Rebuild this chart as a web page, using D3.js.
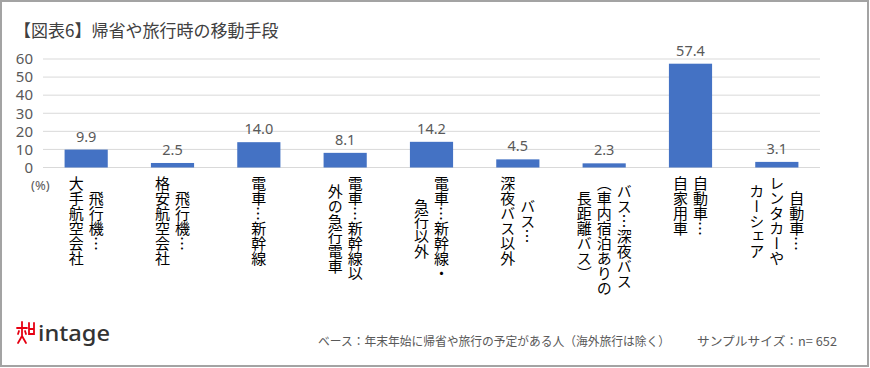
<!DOCTYPE html>
<html><head><meta charset="utf-8">
<script src="https://cdn.jsdelivr.net/npm/d3@7"></script>
<style>
html,body{margin:0;padding:0;background:#fff;}
svg{display:block;}
</style></head>
<body>
<svg id="chart" width="870" height="368"></svg>
<script>
const title = "【図表6】帰省や旅行時の移動手段";
const categories = [
  ["飛行機…","大手航空会社"],
  ["飛行機…","格安航空会社"],
  ["電車…新幹線"],
  ["電車…新幹線以","外の急行電車"],
  ["電車…新幹線・","急行以外"],
  ["バス…","深夜バス以外"],
  ["バス…深夜バス","（車内宿泊ありの","長距離バス）"],
  ["自動車…","自家用車"],
  ["自動車…","レンタカーや","カーシェア"]
];
const values = [9.9, 2.5, 14.0, 8.1, 14.2, 4.5, 2.3, 57.4, 3.1];
const yTicks = [0, 10, 20, 30, 40, 50, 60];
const unitLabel = "(%)";
const baseNote = "ベース：年末年始に帰省や旅行の予定がある人（海外旅行は除く）";
const sampleNote = "サンプルサイズ：n= 652";

const svg = d3.select("#chart");
const JP = "'Noto Sans CJK JP','Noto Sans',sans-serif";
const NUM = "'Noto Sans','Open Sans',sans-serif";
const gray = "#595959";

svg.append("rect").attr("x",1).attr("y",1).attr("width",867).attr("height",365)
  .attr("fill","#fff").attr("stroke","#a3a3a3").attr("stroke-width",2);

svg.append("text").attr("x",14).attr("y",37).text(title)
  .attr("font-family",JP).attr("font-size",17).attr("fill","#404040");

const x = d3.scaleBand().domain(d3.range(values.length)).range([43,820])
  .paddingInner(0.5).paddingOuter(0.25);
const y = d3.scaleLinear().domain([0,60]).range([167.5,59]);

svg.append("g").selectAll("line").data(yTicks).join("line")
  .attr("x1",43).attr("x2",820)
  .attr("y1",d=>y(d)).attr("y2",d=>y(d))
  .attr("stroke","#d9d9d9").attr("stroke-width",1);

const yAxis = d3.axisLeft(y).tickValues(yTicks).tickSize(0).tickPadding(0);
const ga = svg.append("g").attr("transform","translate(33,0)").call(yAxis);
ga.select(".domain").remove();
ga.selectAll("text").attr("font-family",NUM).attr("font-size",15).attr("fill",gray);

svg.append("text").attr("x",31).attr("y",190).text(unitLabel)
  .attr("font-family",NUM).attr("font-size",13).attr("fill",gray);

svg.append("g").selectAll("rect").data(values).join("rect")
  .attr("x",(d,i)=>x(i)).attr("width",x.bandwidth())
  .attr("y",d=>y(d)).attr("height",d=>y(0)-y(d))
  .attr("fill","#4472c4");

svg.append("g").selectAll("text").data(values).join("text")
  .attr("x",(d,i)=>x(i)+x.bandwidth()/2).attr("y",d=>y(d)-8)
  .attr("text-anchor","middle").text(d=>d.toFixed(1))
  .attr("font-family",NUM).attr("font-size",14.5).attr("fill",gray);

const labelTop = 176, colGap = 20, fs = 15;
categories.forEach((lines,i)=>{
  const cx = x(i)+x.bandwidth()/2;
  const n = lines.length;
  const g = svg.append("g");
  const texts = lines.map((ln,j)=>{
    const colX = cx + ((n-1)/2 - j)*colGap;
    return g.append("text").attr("x",colX).attr("y",0)
      .style("writing-mode","vertical-rl")
      .attr("text-anchor","middle")
      .attr("font-family",JP).attr("font-size",fs).attr("fill","#000")
      .text(ln);
  });
  let maxLen = 0;
  texts.forEach(t=>{ maxLen = Math.max(maxLen, t.node().getComputedTextLength()); });
  texts.forEach(t=>t.attr("y", labelTop + maxLen/2));
});

svg.append("text").attr("x",318).attr("y",346).text(baseNote)
  .attr("font-family",JP).attr("font-size",12.5).attr("fill",gray)
  .attr("textLength",352).attr("lengthAdjust","spacingAndGlyphs");
svg.append("text").attr("x",697).attr("y",346).text(sampleNote)
  .attr("font-family",JP).attr("font-size",12.5).attr("fill",gray)
  .attr("textLength",140).attr("lengthAdjust","spacingAndGlyphs");

const logo = svg.append("g").attr("stroke","#e60012").attr("stroke-width",1.8)
  .attr("fill","none").attr("stroke-linecap","round");
logo.append("path").attr("d","M22,322 L22,325 M17,328 L27,328 M22,325 L22,336 M22,336 L18,343 M22,336 L26,343 M19,331 L18,334 M25,331 L26,334");
logo.append("path").attr("d","M29,323 L29,334 L34,334 L34,323 M29,329 L34,329");
svg.append("text").attr("x",38).attr("y",341).text("intage")
  .attr("font-family",NUM).attr("font-size",21).attr("font-weight",500)
  .attr("fill","#333").attr("textLength",72).attr("lengthAdjust","spacingAndGlyphs");
</script>
</body></html>
